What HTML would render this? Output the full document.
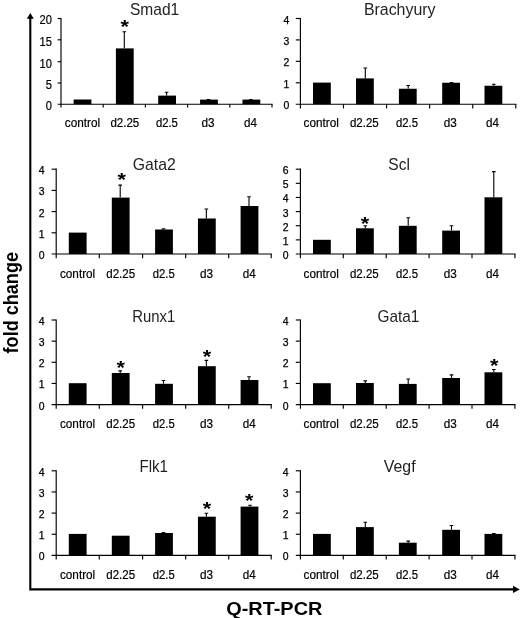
<!DOCTYPE html>
<html><head><meta charset="utf-8"><title>Q-RT-PCR</title>
<style>html,body{margin:0;padding:0;background:#fff;}svg{display:block;}</style></head>
<body><svg width="520" height="618" viewBox="0 0 520 618">
<defs><filter id="b" x="0" y="0" width="100%" height="100%" filterUnits="userSpaceOnUse" color-interpolation-filters="sRGB"><feGaussianBlur stdDeviation="0.45"/></filter></defs>
<rect width="520" height="618" fill="#fff"/>
<g filter="url(#b)">
<rect width="520" height="618" fill="#fff"/>
<path d="M61.00 17.90V107.60" stroke="#000" stroke-width="1.15" fill="none"/>
<path d="M57.70 104.20H272.60" stroke="#000" stroke-width="1.15" fill="none"/>
<text x="52" y="109.80" text-anchor="end" font-size="12" stroke="#000" stroke-width="0.2" font-family="Liberation Sans, sans-serif" textLength="6.2" lengthAdjust="spacingAndGlyphs">0</text>
<path d="M57.70 83.00H61.00" stroke="#000" stroke-width="1.15" fill="none"/>
<text x="52" y="88.80" text-anchor="end" font-size="12" stroke="#000" stroke-width="0.2" font-family="Liberation Sans, sans-serif" textLength="6.2" lengthAdjust="spacingAndGlyphs">5</text>
<path d="M57.70 61.70H61.00" stroke="#000" stroke-width="1.15" fill="none"/>
<text x="52" y="67.50" text-anchor="end" font-size="12" stroke="#000" stroke-width="0.2" font-family="Liberation Sans, sans-serif" textLength="12.4" lengthAdjust="spacingAndGlyphs">10</text>
<path d="M57.70 39.80H61.00" stroke="#000" stroke-width="1.15" fill="none"/>
<text x="52" y="45.60" text-anchor="end" font-size="12" stroke="#000" stroke-width="0.2" font-family="Liberation Sans, sans-serif" textLength="12.4" lengthAdjust="spacingAndGlyphs">15</text>
<path d="M57.70 18.50H61.00" stroke="#000" stroke-width="1.15" fill="none"/>
<text x="52" y="24.30" text-anchor="end" font-size="12" stroke="#000" stroke-width="0.2" font-family="Liberation Sans, sans-serif" textLength="12.4" lengthAdjust="spacingAndGlyphs">20</text>
<path d="M103.20 104.20V107.60" stroke="#000" stroke-width="1.15" fill="none"/>
<path d="M145.40 104.20V107.60" stroke="#000" stroke-width="1.15" fill="none"/>
<path d="M187.60 104.20V107.60" stroke="#000" stroke-width="1.15" fill="none"/>
<path d="M229.80 104.20V107.60" stroke="#000" stroke-width="1.15" fill="none"/>
<path d="M272.00 104.20V107.60" stroke="#000" stroke-width="1.15" fill="none"/>
<rect x="73.60" y="99.50" width="17.8" height="4.70" fill="#000"/>
<text x="64.75" y="127.2" font-size="12" stroke="#000" stroke-width="0.2" font-family="Liberation Sans, sans-serif" textLength="35.3" lengthAdjust="spacingAndGlyphs">control</text>
<rect x="115.90" y="48.40" width="17.8" height="55.80" fill="#000"/>
<path d="M124.30 48.40V31.30M122.50 31.80H126.10" stroke="#000" stroke-width="1.1" fill="none"/>
<text transform="translate(124.70 33.38) scale(1.13 1)" text-anchor="middle" font-size="19.2" font-weight="bold" font-family="Liberation Sans, sans-serif">*</text>
<text x="110.40" y="127.2" font-size="12" stroke="#000" stroke-width="0.2" font-family="Liberation Sans, sans-serif" textLength="28.8" lengthAdjust="spacingAndGlyphs">d2.25</text>
<rect x="158.20" y="95.60" width="17.8" height="8.60" fill="#000"/>
<path d="M166.60 95.60V91.70M164.80 92.20H168.40" stroke="#000" stroke-width="1.1" fill="none"/>
<text x="155.90" y="127.2" font-size="12" stroke="#000" stroke-width="0.2" font-family="Liberation Sans, sans-serif" textLength="22.0" lengthAdjust="spacingAndGlyphs">d2.5</text>
<rect x="200.10" y="99.60" width="17.8" height="4.60" fill="#000"/>
<path d="M208.50 99.60V99.00M206.70 99.50H210.30" stroke="#000" stroke-width="1.1" fill="none"/>
<text x="201.55" y="127.2" font-size="12" stroke="#000" stroke-width="0.2" font-family="Liberation Sans, sans-serif" textLength="13.1" lengthAdjust="spacingAndGlyphs">d3</text>
<rect x="242.45" y="99.60" width="17.8" height="4.60" fill="#000"/>
<path d="M250.85 99.60V99.00M249.05 99.50H252.65" stroke="#000" stroke-width="1.1" fill="none"/>
<text x="243.95" y="127.2" font-size="12" stroke="#000" stroke-width="0.2" font-family="Liberation Sans, sans-serif" textLength="13.0" lengthAdjust="spacingAndGlyphs">d4</text>
<text x="129.9" y="15.25" font-size="16.6" fill="#222" font-family="Liberation Sans, sans-serif" textLength="49.3" lengthAdjust="spacingAndGlyphs">Smad1</text>
<path d="M300.40 17.90V108.40" stroke="#000" stroke-width="1.15" fill="none"/>
<path d="M295.80 104.20H516.40" stroke="#000" stroke-width="1.15" fill="none"/>
<text x="289.3" y="109.20" text-anchor="end" font-size="10" stroke="#000" stroke-width="0.25" font-family="Liberation Sans, sans-serif" textLength="5.8" lengthAdjust="spacingAndGlyphs">0</text>
<path d="M295.80 82.78H300.40" stroke="#000" stroke-width="1.15" fill="none"/>
<text x="289.3" y="87.78" text-anchor="end" font-size="10" stroke="#000" stroke-width="0.25" font-family="Liberation Sans, sans-serif" textLength="5.8" lengthAdjust="spacingAndGlyphs">1</text>
<path d="M295.80 61.35H300.40" stroke="#000" stroke-width="1.15" fill="none"/>
<text x="289.3" y="66.35" text-anchor="end" font-size="10" stroke="#000" stroke-width="0.25" font-family="Liberation Sans, sans-serif" textLength="5.8" lengthAdjust="spacingAndGlyphs">2</text>
<path d="M295.80 39.92H300.40" stroke="#000" stroke-width="1.15" fill="none"/>
<text x="289.3" y="44.92" text-anchor="end" font-size="10" stroke="#000" stroke-width="0.25" font-family="Liberation Sans, sans-serif" textLength="5.8" lengthAdjust="spacingAndGlyphs">3</text>
<path d="M295.80 18.50H300.40" stroke="#000" stroke-width="1.15" fill="none"/>
<text x="289.3" y="23.50" text-anchor="end" font-size="10" stroke="#000" stroke-width="0.25" font-family="Liberation Sans, sans-serif" textLength="5.8" lengthAdjust="spacingAndGlyphs">4</text>
<path d="M343.48 104.20V108.40" stroke="#000" stroke-width="1.15" fill="none"/>
<path d="M386.56 104.20V108.40" stroke="#000" stroke-width="1.15" fill="none"/>
<path d="M429.64 104.20V108.40" stroke="#000" stroke-width="1.15" fill="none"/>
<path d="M472.72 104.20V108.40" stroke="#000" stroke-width="1.15" fill="none"/>
<path d="M515.80 104.20V108.40" stroke="#000" stroke-width="1.15" fill="none"/>
<rect x="313.00" y="82.60" width="17.8" height="21.60" fill="#000"/>
<text x="303.55" y="127.2" font-size="12" stroke="#000" stroke-width="0.2" font-family="Liberation Sans, sans-serif" textLength="35.3" lengthAdjust="spacingAndGlyphs">control</text>
<rect x="356.00" y="78.40" width="17.8" height="25.80" fill="#000"/>
<path d="M365.30 78.40V67.50M363.50 68.00H367.10" stroke="#000" stroke-width="1.1" fill="none"/>
<text x="349.90" y="127.2" font-size="12" stroke="#000" stroke-width="0.2" font-family="Liberation Sans, sans-serif" textLength="28.8" lengthAdjust="spacingAndGlyphs">d2.25</text>
<rect x="398.90" y="88.75" width="17.8" height="15.45" fill="#000"/>
<path d="M408.20 88.75V85.00M406.40 85.50H410.00" stroke="#000" stroke-width="1.1" fill="none"/>
<text x="396.00" y="127.2" font-size="12" stroke="#000" stroke-width="0.2" font-family="Liberation Sans, sans-serif" textLength="22.0" lengthAdjust="spacingAndGlyphs">d2.5</text>
<rect x="442.20" y="82.75" width="17.8" height="21.45" fill="#000"/>
<path d="M451.50 82.75V82.00M449.70 82.50H453.30" stroke="#000" stroke-width="1.1" fill="none"/>
<text x="443.65" y="127.2" font-size="12" stroke="#000" stroke-width="0.2" font-family="Liberation Sans, sans-serif" textLength="13.1" lengthAdjust="spacingAndGlyphs">d3</text>
<rect x="484.50" y="85.75" width="17.8" height="18.45" fill="#000"/>
<path d="M493.80 85.75V83.75M492.00 84.25H495.60" stroke="#000" stroke-width="1.1" fill="none"/>
<text x="486.00" y="127.2" font-size="12" stroke="#000" stroke-width="0.2" font-family="Liberation Sans, sans-serif" textLength="13.0" lengthAdjust="spacingAndGlyphs">d4</text>
<text x="363.9" y="15.25" font-size="16.6" fill="#222" font-family="Liberation Sans, sans-serif" textLength="71.6" lengthAdjust="spacingAndGlyphs">Brachyury</text>
<path d="M56.20 168.60V258.20" stroke="#000" stroke-width="1.15" fill="none"/>
<path d="M51.60 254.00H271.80" stroke="#000" stroke-width="1.15" fill="none"/>
<text x="44.6" y="259.00" text-anchor="end" font-size="10" stroke="#000" stroke-width="0.25" font-family="Liberation Sans, sans-serif" textLength="5.8" lengthAdjust="spacingAndGlyphs">0</text>
<path d="M51.60 232.80H56.20" stroke="#000" stroke-width="1.15" fill="none"/>
<text x="44.6" y="237.80" text-anchor="end" font-size="10" stroke="#000" stroke-width="0.25" font-family="Liberation Sans, sans-serif" textLength="5.8" lengthAdjust="spacingAndGlyphs">1</text>
<path d="M51.60 211.60H56.20" stroke="#000" stroke-width="1.15" fill="none"/>
<text x="44.6" y="216.60" text-anchor="end" font-size="10" stroke="#000" stroke-width="0.25" font-family="Liberation Sans, sans-serif" textLength="5.8" lengthAdjust="spacingAndGlyphs">2</text>
<path d="M51.60 190.40H56.20" stroke="#000" stroke-width="1.15" fill="none"/>
<text x="44.6" y="195.40" text-anchor="end" font-size="10" stroke="#000" stroke-width="0.25" font-family="Liberation Sans, sans-serif" textLength="5.8" lengthAdjust="spacingAndGlyphs">3</text>
<path d="M51.60 169.20H56.20" stroke="#000" stroke-width="1.15" fill="none"/>
<text x="44.6" y="174.20" text-anchor="end" font-size="10" stroke="#000" stroke-width="0.25" font-family="Liberation Sans, sans-serif" textLength="5.8" lengthAdjust="spacingAndGlyphs">4</text>
<path d="M99.30 254.00V258.20" stroke="#000" stroke-width="1.15" fill="none"/>
<path d="M142.60 254.00V258.20" stroke="#000" stroke-width="1.15" fill="none"/>
<path d="M185.70 254.00V258.20" stroke="#000" stroke-width="1.15" fill="none"/>
<path d="M228.70 254.00V258.20" stroke="#000" stroke-width="1.15" fill="none"/>
<path d="M271.20 254.00V258.20" stroke="#000" stroke-width="1.15" fill="none"/>
<rect x="68.80" y="232.60" width="17.8" height="21.40" fill="#000"/>
<text x="59.95" y="277.5" font-size="12" stroke="#000" stroke-width="0.2" font-family="Liberation Sans, sans-serif" textLength="35.3" lengthAdjust="spacingAndGlyphs">control</text>
<rect x="111.80" y="197.60" width="17.8" height="56.40" fill="#000"/>
<path d="M120.20 197.60V184.60M118.40 185.10H122.00" stroke="#000" stroke-width="1.1" fill="none"/>
<text transform="translate(121.70 186.18) scale(1.13 1)" text-anchor="middle" font-size="19.2" font-weight="bold" font-family="Liberation Sans, sans-serif">*</text>
<text x="106.30" y="277.5" font-size="12" stroke="#000" stroke-width="0.2" font-family="Liberation Sans, sans-serif" textLength="28.8" lengthAdjust="spacingAndGlyphs">d2.25</text>
<rect x="155.10" y="229.50" width="17.8" height="24.50" fill="#000"/>
<path d="M163.50 229.50V228.40M161.70 228.90H165.30" stroke="#000" stroke-width="1.1" fill="none"/>
<text x="152.80" y="277.5" font-size="12" stroke="#000" stroke-width="0.2" font-family="Liberation Sans, sans-serif" textLength="22.0" lengthAdjust="spacingAndGlyphs">d2.5</text>
<rect x="197.95" y="218.50" width="17.8" height="35.50" fill="#000"/>
<path d="M206.35 218.50V208.50M204.55 209.00H208.15" stroke="#000" stroke-width="1.1" fill="none"/>
<text x="200.00" y="277.5" font-size="12" stroke="#000" stroke-width="0.2" font-family="Liberation Sans, sans-serif" textLength="13.1" lengthAdjust="spacingAndGlyphs">d3</text>
<rect x="240.60" y="206.00" width="17.8" height="48.00" fill="#000"/>
<path d="M249.00 206.00V196.30M247.20 196.80H250.80" stroke="#000" stroke-width="1.1" fill="none"/>
<text x="242.70" y="277.5" font-size="12" stroke="#000" stroke-width="0.2" font-family="Liberation Sans, sans-serif" textLength="13.0" lengthAdjust="spacingAndGlyphs">d4</text>
<text x="132.8" y="170.2" font-size="16.6" fill="#222" font-family="Liberation Sans, sans-serif" textLength="42.9" lengthAdjust="spacingAndGlyphs">Gata2</text>
<path d="M300.40 168.60V258.20" stroke="#000" stroke-width="1.15" fill="none"/>
<path d="M295.80 254.00H515.50" stroke="#000" stroke-width="1.15" fill="none"/>
<text x="288.6" y="259.00" text-anchor="end" font-size="10" stroke="#000" stroke-width="0.25" font-family="Liberation Sans, sans-serif" textLength="5.8" lengthAdjust="spacingAndGlyphs">0</text>
<path d="M295.80 239.87H300.40" stroke="#000" stroke-width="1.15" fill="none"/>
<text x="288.6" y="244.87" text-anchor="end" font-size="10" stroke="#000" stroke-width="0.25" font-family="Liberation Sans, sans-serif" textLength="5.8" lengthAdjust="spacingAndGlyphs">1</text>
<path d="M295.80 225.73H300.40" stroke="#000" stroke-width="1.15" fill="none"/>
<text x="288.6" y="230.73" text-anchor="end" font-size="10" stroke="#000" stroke-width="0.25" font-family="Liberation Sans, sans-serif" textLength="5.8" lengthAdjust="spacingAndGlyphs">2</text>
<path d="M295.80 211.60H300.40" stroke="#000" stroke-width="1.15" fill="none"/>
<text x="288.6" y="216.60" text-anchor="end" font-size="10" stroke="#000" stroke-width="0.25" font-family="Liberation Sans, sans-serif" textLength="5.8" lengthAdjust="spacingAndGlyphs">3</text>
<path d="M295.80 197.47H300.40" stroke="#000" stroke-width="1.15" fill="none"/>
<text x="288.6" y="202.47" text-anchor="end" font-size="10" stroke="#000" stroke-width="0.25" font-family="Liberation Sans, sans-serif" textLength="5.8" lengthAdjust="spacingAndGlyphs">4</text>
<path d="M295.80 183.33H300.40" stroke="#000" stroke-width="1.15" fill="none"/>
<text x="288.6" y="188.33" text-anchor="end" font-size="10" stroke="#000" stroke-width="0.25" font-family="Liberation Sans, sans-serif" textLength="5.8" lengthAdjust="spacingAndGlyphs">5</text>
<path d="M295.80 169.20H300.40" stroke="#000" stroke-width="1.15" fill="none"/>
<text x="288.6" y="174.20" text-anchor="end" font-size="10" stroke="#000" stroke-width="0.25" font-family="Liberation Sans, sans-serif" textLength="5.8" lengthAdjust="spacingAndGlyphs">6</text>
<path d="M343.30 254.00V258.20" stroke="#000" stroke-width="1.15" fill="none"/>
<path d="M386.20 254.00V258.20" stroke="#000" stroke-width="1.15" fill="none"/>
<path d="M429.10 254.00V258.20" stroke="#000" stroke-width="1.15" fill="none"/>
<path d="M472.00 254.00V258.20" stroke="#000" stroke-width="1.15" fill="none"/>
<path d="M514.90 254.00V258.20" stroke="#000" stroke-width="1.15" fill="none"/>
<rect x="313.00" y="239.80" width="17.8" height="14.20" fill="#000"/>
<text x="303.55" y="277.5" font-size="12" stroke="#000" stroke-width="0.2" font-family="Liberation Sans, sans-serif" textLength="35.3" lengthAdjust="spacingAndGlyphs">control</text>
<rect x="356.00" y="228.30" width="17.8" height="25.70" fill="#000"/>
<path d="M365.30 228.30V225.20M363.50 225.70H367.10" stroke="#000" stroke-width="1.1" fill="none"/>
<text transform="translate(365.00 230.48) scale(1.13 1)" text-anchor="middle" font-size="19.2" font-weight="bold" font-family="Liberation Sans, sans-serif">*</text>
<text x="349.90" y="277.5" font-size="12" stroke="#000" stroke-width="0.2" font-family="Liberation Sans, sans-serif" textLength="28.8" lengthAdjust="spacingAndGlyphs">d2.25</text>
<rect x="398.90" y="225.80" width="17.8" height="28.20" fill="#000"/>
<path d="M408.20 225.80V217.20M406.40 217.70H410.00" stroke="#000" stroke-width="1.1" fill="none"/>
<text x="396.00" y="277.5" font-size="12" stroke="#000" stroke-width="0.2" font-family="Liberation Sans, sans-serif" textLength="22.0" lengthAdjust="spacingAndGlyphs">d2.5</text>
<rect x="442.20" y="230.60" width="17.8" height="23.40" fill="#000"/>
<path d="M451.50 230.60V225.20M449.70 225.70H453.30" stroke="#000" stroke-width="1.1" fill="none"/>
<text x="443.65" y="277.5" font-size="12" stroke="#000" stroke-width="0.2" font-family="Liberation Sans, sans-serif" textLength="13.1" lengthAdjust="spacingAndGlyphs">d3</text>
<rect x="484.50" y="197.30" width="17.8" height="56.70" fill="#000"/>
<path d="M493.80 197.30V171.10M492.00 171.60H495.60" stroke="#000" stroke-width="1.1" fill="none"/>
<text x="486.00" y="277.5" font-size="12" stroke="#000" stroke-width="0.2" font-family="Liberation Sans, sans-serif" textLength="13.0" lengthAdjust="spacingAndGlyphs">d4</text>
<text x="388.3" y="170.2" font-size="16.6" fill="#222" font-family="Liberation Sans, sans-serif" textLength="21.6" lengthAdjust="spacingAndGlyphs">Scl</text>
<path d="M56.20 319.40V408.80" stroke="#000" stroke-width="1.15" fill="none"/>
<path d="M51.60 404.60H271.80" stroke="#000" stroke-width="1.15" fill="none"/>
<text x="44.6" y="409.60" text-anchor="end" font-size="10" stroke="#000" stroke-width="0.25" font-family="Liberation Sans, sans-serif" textLength="5.8" lengthAdjust="spacingAndGlyphs">0</text>
<path d="M51.60 383.45H56.20" stroke="#000" stroke-width="1.15" fill="none"/>
<text x="44.6" y="388.45" text-anchor="end" font-size="10" stroke="#000" stroke-width="0.25" font-family="Liberation Sans, sans-serif" textLength="5.8" lengthAdjust="spacingAndGlyphs">1</text>
<path d="M51.60 362.30H56.20" stroke="#000" stroke-width="1.15" fill="none"/>
<text x="44.6" y="367.30" text-anchor="end" font-size="10" stroke="#000" stroke-width="0.25" font-family="Liberation Sans, sans-serif" textLength="5.8" lengthAdjust="spacingAndGlyphs">2</text>
<path d="M51.60 341.15H56.20" stroke="#000" stroke-width="1.15" fill="none"/>
<text x="44.6" y="346.15" text-anchor="end" font-size="10" stroke="#000" stroke-width="0.25" font-family="Liberation Sans, sans-serif" textLength="5.8" lengthAdjust="spacingAndGlyphs">3</text>
<path d="M51.60 320.00H56.20" stroke="#000" stroke-width="1.15" fill="none"/>
<text x="44.6" y="325.00" text-anchor="end" font-size="10" stroke="#000" stroke-width="0.25" font-family="Liberation Sans, sans-serif" textLength="5.8" lengthAdjust="spacingAndGlyphs">4</text>
<path d="M99.30 404.60V408.80" stroke="#000" stroke-width="1.15" fill="none"/>
<path d="M142.60 404.60V408.80" stroke="#000" stroke-width="1.15" fill="none"/>
<path d="M185.70 404.60V408.80" stroke="#000" stroke-width="1.15" fill="none"/>
<path d="M228.70 404.60V408.80" stroke="#000" stroke-width="1.15" fill="none"/>
<path d="M271.20 404.60V408.80" stroke="#000" stroke-width="1.15" fill="none"/>
<rect x="68.80" y="383.20" width="17.8" height="21.40" fill="#000"/>
<text x="59.95" y="427.8" font-size="12" stroke="#000" stroke-width="0.2" font-family="Liberation Sans, sans-serif" textLength="35.3" lengthAdjust="spacingAndGlyphs">control</text>
<rect x="111.80" y="373.00" width="17.8" height="31.60" fill="#000"/>
<path d="M120.20 373.00V370.40M118.40 370.90H122.00" stroke="#000" stroke-width="1.1" fill="none"/>
<text transform="translate(120.80 374.48) scale(1.13 1)" text-anchor="middle" font-size="19.2" font-weight="bold" font-family="Liberation Sans, sans-serif">*</text>
<text x="106.30" y="427.8" font-size="12" stroke="#000" stroke-width="0.2" font-family="Liberation Sans, sans-serif" textLength="28.8" lengthAdjust="spacingAndGlyphs">d2.25</text>
<rect x="155.10" y="383.80" width="17.8" height="20.80" fill="#000"/>
<path d="M163.50 383.80V380.00M161.70 380.50H165.30" stroke="#000" stroke-width="1.1" fill="none"/>
<text x="152.80" y="427.8" font-size="12" stroke="#000" stroke-width="0.2" font-family="Liberation Sans, sans-serif" textLength="22.0" lengthAdjust="spacingAndGlyphs">d2.5</text>
<rect x="197.95" y="366.20" width="17.8" height="38.40" fill="#000"/>
<path d="M206.35 366.20V359.90M204.55 360.40H208.15" stroke="#000" stroke-width="1.1" fill="none"/>
<text transform="translate(206.95 363.48) scale(1.13 1)" text-anchor="middle" font-size="19.2" font-weight="bold" font-family="Liberation Sans, sans-serif">*</text>
<text x="200.00" y="427.8" font-size="12" stroke="#000" stroke-width="0.2" font-family="Liberation Sans, sans-serif" textLength="13.1" lengthAdjust="spacingAndGlyphs">d3</text>
<rect x="240.60" y="380.00" width="17.8" height="24.60" fill="#000"/>
<path d="M249.00 380.00V376.30M247.20 376.80H250.80" stroke="#000" stroke-width="1.1" fill="none"/>
<text x="242.70" y="427.8" font-size="12" stroke="#000" stroke-width="0.2" font-family="Liberation Sans, sans-serif" textLength="13.0" lengthAdjust="spacingAndGlyphs">d4</text>
<text x="132.3" y="321.8" font-size="16.6" fill="#222" font-family="Liberation Sans, sans-serif" textLength="43.0" lengthAdjust="spacingAndGlyphs">Runx1</text>
<path d="M300.40 319.40V408.80" stroke="#000" stroke-width="1.15" fill="none"/>
<path d="M295.80 404.60H515.50" stroke="#000" stroke-width="1.15" fill="none"/>
<text x="288.6" y="409.60" text-anchor="end" font-size="10" stroke="#000" stroke-width="0.25" font-family="Liberation Sans, sans-serif" textLength="5.8" lengthAdjust="spacingAndGlyphs">0</text>
<path d="M295.80 383.45H300.40" stroke="#000" stroke-width="1.15" fill="none"/>
<text x="288.6" y="388.45" text-anchor="end" font-size="10" stroke="#000" stroke-width="0.25" font-family="Liberation Sans, sans-serif" textLength="5.8" lengthAdjust="spacingAndGlyphs">1</text>
<path d="M295.80 362.30H300.40" stroke="#000" stroke-width="1.15" fill="none"/>
<text x="288.6" y="367.30" text-anchor="end" font-size="10" stroke="#000" stroke-width="0.25" font-family="Liberation Sans, sans-serif" textLength="5.8" lengthAdjust="spacingAndGlyphs">2</text>
<path d="M295.80 341.15H300.40" stroke="#000" stroke-width="1.15" fill="none"/>
<text x="288.6" y="346.15" text-anchor="end" font-size="10" stroke="#000" stroke-width="0.25" font-family="Liberation Sans, sans-serif" textLength="5.8" lengthAdjust="spacingAndGlyphs">3</text>
<path d="M295.80 320.00H300.40" stroke="#000" stroke-width="1.15" fill="none"/>
<text x="288.6" y="325.00" text-anchor="end" font-size="10" stroke="#000" stroke-width="0.25" font-family="Liberation Sans, sans-serif" textLength="5.8" lengthAdjust="spacingAndGlyphs">4</text>
<path d="M343.30 404.60V408.80" stroke="#000" stroke-width="1.15" fill="none"/>
<path d="M386.20 404.60V408.80" stroke="#000" stroke-width="1.15" fill="none"/>
<path d="M429.10 404.60V408.80" stroke="#000" stroke-width="1.15" fill="none"/>
<path d="M472.00 404.60V408.80" stroke="#000" stroke-width="1.15" fill="none"/>
<path d="M514.90 404.60V408.80" stroke="#000" stroke-width="1.15" fill="none"/>
<rect x="313.00" y="383.20" width="17.8" height="21.40" fill="#000"/>
<text x="303.55" y="427.8" font-size="12" stroke="#000" stroke-width="0.2" font-family="Liberation Sans, sans-serif" textLength="35.3" lengthAdjust="spacingAndGlyphs">control</text>
<rect x="356.00" y="383.00" width="17.8" height="21.60" fill="#000"/>
<path d="M365.30 383.00V380.40M363.50 380.90H367.10" stroke="#000" stroke-width="1.1" fill="none"/>
<text x="349.90" y="427.8" font-size="12" stroke="#000" stroke-width="0.2" font-family="Liberation Sans, sans-serif" textLength="28.8" lengthAdjust="spacingAndGlyphs">d2.25</text>
<rect x="398.90" y="383.90" width="17.8" height="20.70" fill="#000"/>
<path d="M408.20 383.90V378.50M406.40 379.00H410.00" stroke="#000" stroke-width="1.1" fill="none"/>
<text x="396.00" y="427.8" font-size="12" stroke="#000" stroke-width="0.2" font-family="Liberation Sans, sans-serif" textLength="22.0" lengthAdjust="spacingAndGlyphs">d2.5</text>
<rect x="442.20" y="378.00" width="17.8" height="26.60" fill="#000"/>
<path d="M451.50 378.00V374.40M449.70 374.90H453.30" stroke="#000" stroke-width="1.1" fill="none"/>
<text x="443.65" y="427.8" font-size="12" stroke="#000" stroke-width="0.2" font-family="Liberation Sans, sans-serif" textLength="13.1" lengthAdjust="spacingAndGlyphs">d3</text>
<rect x="484.50" y="372.30" width="17.8" height="32.30" fill="#000"/>
<path d="M493.80 372.30V369.00M492.00 369.50H495.60" stroke="#000" stroke-width="1.1" fill="none"/>
<text transform="translate(494.30 371.68) scale(1.13 1)" text-anchor="middle" font-size="19.2" font-weight="bold" font-family="Liberation Sans, sans-serif">*</text>
<text x="486.00" y="427.8" font-size="12" stroke="#000" stroke-width="0.2" font-family="Liberation Sans, sans-serif" textLength="13.0" lengthAdjust="spacingAndGlyphs">d4</text>
<text x="377.6" y="321.8" font-size="16.6" fill="#222" font-family="Liberation Sans, sans-serif" textLength="41.8" lengthAdjust="spacingAndGlyphs">Gata1</text>
<path d="M56.20 470.20V559.60" stroke="#000" stroke-width="1.15" fill="none"/>
<path d="M51.60 555.40H271.80" stroke="#000" stroke-width="1.15" fill="none"/>
<text x="44.6" y="560.40" text-anchor="end" font-size="10" stroke="#000" stroke-width="0.25" font-family="Liberation Sans, sans-serif" textLength="5.8" lengthAdjust="spacingAndGlyphs">0</text>
<path d="M51.60 534.25H56.20" stroke="#000" stroke-width="1.15" fill="none"/>
<text x="44.6" y="539.25" text-anchor="end" font-size="10" stroke="#000" stroke-width="0.25" font-family="Liberation Sans, sans-serif" textLength="5.8" lengthAdjust="spacingAndGlyphs">1</text>
<path d="M51.60 513.10H56.20" stroke="#000" stroke-width="1.15" fill="none"/>
<text x="44.6" y="518.10" text-anchor="end" font-size="10" stroke="#000" stroke-width="0.25" font-family="Liberation Sans, sans-serif" textLength="5.8" lengthAdjust="spacingAndGlyphs">2</text>
<path d="M51.60 491.95H56.20" stroke="#000" stroke-width="1.15" fill="none"/>
<text x="44.6" y="496.95" text-anchor="end" font-size="10" stroke="#000" stroke-width="0.25" font-family="Liberation Sans, sans-serif" textLength="5.8" lengthAdjust="spacingAndGlyphs">3</text>
<path d="M51.60 470.80H56.20" stroke="#000" stroke-width="1.15" fill="none"/>
<text x="44.6" y="475.80" text-anchor="end" font-size="10" stroke="#000" stroke-width="0.25" font-family="Liberation Sans, sans-serif" textLength="5.8" lengthAdjust="spacingAndGlyphs">4</text>
<path d="M99.30 555.40V559.60" stroke="#000" stroke-width="1.15" fill="none"/>
<path d="M142.60 555.40V559.60" stroke="#000" stroke-width="1.15" fill="none"/>
<path d="M185.70 555.40V559.60" stroke="#000" stroke-width="1.15" fill="none"/>
<path d="M228.70 555.40V559.60" stroke="#000" stroke-width="1.15" fill="none"/>
<path d="M271.20 555.40V559.60" stroke="#000" stroke-width="1.15" fill="none"/>
<rect x="68.80" y="533.90" width="17.8" height="21.50" fill="#000"/>
<text x="59.95" y="578.6" font-size="12" stroke="#000" stroke-width="0.2" font-family="Liberation Sans, sans-serif" textLength="35.3" lengthAdjust="spacingAndGlyphs">control</text>
<rect x="111.80" y="535.70" width="17.8" height="19.70" fill="#000"/>
<text x="106.30" y="578.6" font-size="12" stroke="#000" stroke-width="0.2" font-family="Liberation Sans, sans-serif" textLength="28.8" lengthAdjust="spacingAndGlyphs">d2.25</text>
<rect x="155.10" y="533.00" width="17.8" height="22.40" fill="#000"/>
<path d="M163.50 533.00V532.00M161.70 532.50H165.30" stroke="#000" stroke-width="1.1" fill="none"/>
<text x="152.80" y="578.6" font-size="12" stroke="#000" stroke-width="0.2" font-family="Liberation Sans, sans-serif" textLength="22.0" lengthAdjust="spacingAndGlyphs">d2.5</text>
<rect x="197.95" y="516.70" width="17.8" height="38.70" fill="#000"/>
<path d="M206.35 516.70V512.80M204.55 513.30H208.15" stroke="#000" stroke-width="1.1" fill="none"/>
<text transform="translate(207.05 514.68) scale(1.13 1)" text-anchor="middle" font-size="19.2" font-weight="bold" font-family="Liberation Sans, sans-serif">*</text>
<text x="200.00" y="578.6" font-size="12" stroke="#000" stroke-width="0.2" font-family="Liberation Sans, sans-serif" textLength="13.1" lengthAdjust="spacingAndGlyphs">d3</text>
<rect x="240.60" y="506.60" width="17.8" height="48.80" fill="#000"/>
<path d="M250.00 506.60V504.70M248.20 505.20H251.80" stroke="#000" stroke-width="1.1" fill="none"/>
<text transform="translate(249.10 507.28) scale(1.13 1)" text-anchor="middle" font-size="19.2" font-weight="bold" font-family="Liberation Sans, sans-serif">*</text>
<text x="242.70" y="578.6" font-size="12" stroke="#000" stroke-width="0.2" font-family="Liberation Sans, sans-serif" textLength="13.0" lengthAdjust="spacingAndGlyphs">d4</text>
<text x="139.5" y="471.7" font-size="16.6" fill="#222" font-family="Liberation Sans, sans-serif" textLength="28.5" lengthAdjust="spacingAndGlyphs">Flk1</text>
<path d="M300.40 470.20V559.60" stroke="#000" stroke-width="1.15" fill="none"/>
<path d="M295.80 555.40H515.50" stroke="#000" stroke-width="1.15" fill="none"/>
<text x="288.6" y="560.40" text-anchor="end" font-size="10" stroke="#000" stroke-width="0.25" font-family="Liberation Sans, sans-serif" textLength="5.8" lengthAdjust="spacingAndGlyphs">0</text>
<path d="M295.80 534.25H300.40" stroke="#000" stroke-width="1.15" fill="none"/>
<text x="288.6" y="539.25" text-anchor="end" font-size="10" stroke="#000" stroke-width="0.25" font-family="Liberation Sans, sans-serif" textLength="5.8" lengthAdjust="spacingAndGlyphs">1</text>
<path d="M295.80 513.10H300.40" stroke="#000" stroke-width="1.15" fill="none"/>
<text x="288.6" y="518.10" text-anchor="end" font-size="10" stroke="#000" stroke-width="0.25" font-family="Liberation Sans, sans-serif" textLength="5.8" lengthAdjust="spacingAndGlyphs">2</text>
<path d="M295.80 491.95H300.40" stroke="#000" stroke-width="1.15" fill="none"/>
<text x="288.6" y="496.95" text-anchor="end" font-size="10" stroke="#000" stroke-width="0.25" font-family="Liberation Sans, sans-serif" textLength="5.8" lengthAdjust="spacingAndGlyphs">3</text>
<path d="M295.80 470.80H300.40" stroke="#000" stroke-width="1.15" fill="none"/>
<text x="288.6" y="475.80" text-anchor="end" font-size="10" stroke="#000" stroke-width="0.25" font-family="Liberation Sans, sans-serif" textLength="5.8" lengthAdjust="spacingAndGlyphs">4</text>
<path d="M343.30 555.40V559.60" stroke="#000" stroke-width="1.15" fill="none"/>
<path d="M386.20 555.40V559.60" stroke="#000" stroke-width="1.15" fill="none"/>
<path d="M429.10 555.40V559.60" stroke="#000" stroke-width="1.15" fill="none"/>
<path d="M472.00 555.40V559.60" stroke="#000" stroke-width="1.15" fill="none"/>
<path d="M514.90 555.40V559.60" stroke="#000" stroke-width="1.15" fill="none"/>
<rect x="313.00" y="533.90" width="17.8" height="21.50" fill="#000"/>
<text x="303.55" y="578.6" font-size="12" stroke="#000" stroke-width="0.2" font-family="Liberation Sans, sans-serif" textLength="35.3" lengthAdjust="spacingAndGlyphs">control</text>
<rect x="356.00" y="527.10" width="17.8" height="28.30" fill="#000"/>
<path d="M365.30 527.10V521.70M363.50 522.20H367.10" stroke="#000" stroke-width="1.1" fill="none"/>
<text x="349.90" y="578.6" font-size="12" stroke="#000" stroke-width="0.2" font-family="Liberation Sans, sans-serif" textLength="28.8" lengthAdjust="spacingAndGlyphs">d2.25</text>
<rect x="398.90" y="542.70" width="17.8" height="12.70" fill="#000"/>
<path d="M408.20 542.70V540.60M406.40 541.10H410.00" stroke="#000" stroke-width="1.1" fill="none"/>
<text x="396.00" y="578.6" font-size="12" stroke="#000" stroke-width="0.2" font-family="Liberation Sans, sans-serif" textLength="22.0" lengthAdjust="spacingAndGlyphs">d2.5</text>
<rect x="442.20" y="529.80" width="17.8" height="25.60" fill="#000"/>
<path d="M451.50 529.80V525.00M449.70 525.50H453.30" stroke="#000" stroke-width="1.1" fill="none"/>
<text x="443.65" y="578.6" font-size="12" stroke="#000" stroke-width="0.2" font-family="Liberation Sans, sans-serif" textLength="13.1" lengthAdjust="spacingAndGlyphs">d3</text>
<rect x="484.50" y="533.90" width="17.8" height="21.50" fill="#000"/>
<path d="M493.80 533.90V533.00M492.00 533.50H495.60" stroke="#000" stroke-width="1.1" fill="none"/>
<text x="486.00" y="578.6" font-size="12" stroke="#000" stroke-width="0.2" font-family="Liberation Sans, sans-serif" textLength="13.0" lengthAdjust="spacingAndGlyphs">d4</text>
<text x="383.8" y="471.7" font-size="16.6" fill="#222" font-family="Liberation Sans, sans-serif" textLength="31.8" lengthAdjust="spacingAndGlyphs">Vegf</text>
<path d="M30.3 16V589.4H514" stroke="#000" stroke-width="2.1" fill="none" stroke-linejoin="miter"/>
<path d="M30.3 13L33.8 18.8H26.8Z" fill="#000"/>
<path d="M519.8 589.4L513 585.8V593Z" fill="#000"/>
<text transform="translate(18.4 353.4) rotate(-90)" font-size="20" font-weight="bold" font-family="Liberation Sans, sans-serif" textLength="101.4" lengthAdjust="spacingAndGlyphs">fold change</text>
<text x="226.2" y="615.1" font-size="18.5" font-weight="bold" font-family="Liberation Sans, sans-serif" textLength="96.2" lengthAdjust="spacingAndGlyphs">Q-RT-PCR</text>
</g>
</svg></body></html>
